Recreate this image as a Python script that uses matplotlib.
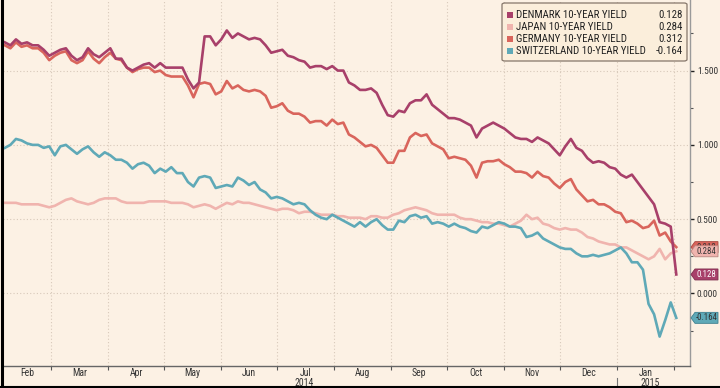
import matplotlib
matplotlib.use('Agg')
import matplotlib.pyplot as plt
import pandas as pd
from matplotlib.patches import Rectangle, FancyBboxPatch, Polygon
from matplotlib.lines import Line2D
import matplotlib.transforms as mtransforms
from matplotlib import font_manager

# ---------------- data ----------------
dates = pd.date_range('2014-02-04', '2015-02-02', freq='3D')

denmark = [1.69, 1.67, 1.71, 1.68, 1.69, 1.67, 1.67, 1.64, 1.60, 1.62,
           1.64, 1.65, 1.60, 1.57, 1.59, 1.65, 1.61, 1.59, 1.62, 1.65,
           1.58, 1.58, 1.52, 1.50, 1.52, 1.54, 1.55, 1.52, 1.55, 1.52,
           1.52, 1.52, 1.52, 1.44, 1.38, 1.42, 1.73, 1.73, 1.67, 1.71,
           1.77, 1.72, 1.75, 1.73, 1.71, 1.72, 1.71, 1.67, 1.62, 1.63,
           1.64, 1.60, 1.59, 1.57, 1.56, 1.52, 1.53, 1.53, 1.51, 1.53,
           1.50, 1.50, 1.42, 1.40, 1.37, 1.37, 1.38, 1.35, 1.27, 1.20,
           1.19, 1.23, 1.22, 1.28, 1.30, 1.30, 1.34, 1.27, 1.24, 1.21,
           1.18, 1.18, 1.17, 1.15, 1.13, 1.05, 1.11, 1.13, 1.15, 1.13,
           1.11, 1.08, 1.05, 1.04, 1.04, 1.02, 1.05, 1.03, 1.01, 0.97,
           0.93, 0.99, 1.04, 0.98, 0.96, 0.91, 0.88, 0.89, 0.88, 0.85,
           0.84, 0.80, 0.78, 0.80, 0.75, 0.70, 0.65, 0.60, 0.48, 0.47,
           0.45, 0.128]

japan = [0.61, 0.61, 0.61, 0.60, 0.60, 0.60, 0.60, 0.59, 0.58, 0.59,
         0.61, 0.63, 0.64, 0.62, 0.61, 0.60, 0.61, 0.63, 0.64, 0.64,
         0.64, 0.62, 0.61, 0.61, 0.61, 0.61, 0.62, 0.62, 0.62, 0.62,
         0.61, 0.61, 0.61, 0.60, 0.58, 0.59, 0.60, 0.59, 0.57, 0.59,
         0.61, 0.60, 0.62, 0.61, 0.61, 0.60, 0.59, 0.58, 0.57, 0.56,
         0.57, 0.57, 0.56, 0.54, 0.55, 0.55, 0.54, 0.53, 0.53, 0.53,
         0.52, 0.52, 0.51, 0.51, 0.51, 0.50, 0.52, 0.52, 0.51, 0.51,
         0.53, 0.54, 0.56, 0.57, 0.58, 0.57, 0.56, 0.54, 0.53, 0.53,
         0.53, 0.53, 0.51, 0.50, 0.50, 0.49, 0.48, 0.48, 0.47, 0.47,
         0.46, 0.45, 0.47, 0.49, 0.53, 0.50, 0.51, 0.47, 0.46, 0.44,
         0.43, 0.44, 0.43, 0.43, 0.41, 0.38, 0.37, 0.35, 0.34, 0.33,
         0.33, 0.31, 0.31, 0.29, 0.27, 0.25, 0.23, 0.25, 0.30, 0.23,
         0.27, 0.284]

germany = [1.67, 1.65, 1.69, 1.66, 1.67, 1.65, 1.65, 1.62, 1.57, 1.60,
           1.62, 1.63, 1.57, 1.55, 1.57, 1.63, 1.58, 1.55, 1.59, 1.62,
           1.58, 1.57, 1.52, 1.49, 1.51, 1.52, 1.52, 1.49, 1.50, 1.47,
           1.46, 1.46, 1.46, 1.40, 1.32, 1.41, 1.42, 1.41, 1.34, 1.36,
           1.43, 1.38, 1.40, 1.37, 1.36, 1.37, 1.36, 1.33, 1.25, 1.26,
           1.28, 1.23, 1.21, 1.21, 1.19, 1.15, 1.16, 1.16, 1.13, 1.17,
           1.14, 1.15, 1.07, 1.05, 1.02, 0.99, 1.00, 0.98, 0.93, 0.88,
           0.88, 0.96, 0.96, 1.05, 1.08, 1.06, 1.07, 1.01, 0.99, 0.97,
           0.91, 0.92, 0.91, 0.90, 0.86, 0.78, 0.88, 0.89, 0.89, 0.90,
           0.87, 0.85, 0.82, 0.82, 0.81, 0.78, 0.82, 0.79, 0.78, 0.74,
           0.71, 0.75, 0.77, 0.70, 0.66, 0.62, 0.63, 0.60, 0.60, 0.58,
           0.55, 0.54, 0.48, 0.49, 0.47, 0.44, 0.45, 0.49, 0.39, 0.41,
           0.35, 0.312]

switzerland = [0.98, 1.00, 1.04, 1.03, 1.01, 1.00, 1.00, 0.98, 0.99, 0.93,
               0.99, 1.00, 0.97, 0.94, 0.97, 0.99, 0.95, 0.92, 0.95, 0.93,
               0.90, 0.90, 0.88, 0.84, 0.87, 0.88, 0.86, 0.81, 0.84, 0.82,
               0.85, 0.81, 0.81, 0.75, 0.72, 0.78, 0.79, 0.78, 0.71, 0.72,
               0.73, 0.72, 0.78, 0.76, 0.73, 0.75, 0.70, 0.68, 0.64, 0.65,
               0.64, 0.62, 0.60, 0.61, 0.60, 0.56, 0.53, 0.51, 0.50, 0.53,
               0.51, 0.49, 0.47, 0.45, 0.48, 0.45, 0.48, 0.50, 0.46, 0.43,
               0.43, 0.49, 0.48, 0.52, 0.53, 0.51, 0.52, 0.47, 0.48, 0.47,
               0.45, 0.47, 0.45, 0.44, 0.42, 0.41, 0.45, 0.44, 0.46, 0.48,
               0.47, 0.45, 0.45, 0.44, 0.38, 0.39, 0.41, 0.37, 0.35, 0.33,
               0.31, 0.30, 0.30, 0.27, 0.25, 0.25, 0.26, 0.25, 0.26, 0.27,
               0.29, 0.31, 0.27, 0.21, 0.21, 0.16, -0.07, -0.14, -0.29, -0.18,
               -0.06, -0.164]

names = ['DENMARK 10-YEAR YIELD', 'JAPAN 10-YEAR YIELD',
         'GERMANY 10-YEAR YIELD', 'SWITZERLAND 10-YEAR YIELD']
months = ['Feb', 'Mar', 'Apr', 'May', 'Jun', 'Jul', 'Aug', 'Sep', 'Oct',
          'Nov', 'Dec', 'Jan']
years = ['2014', '2015']
yticks = [0.0, 0.5, 1.0, 1.5]

# ---------------- style ----------------
installed = {f.name for f in font_manager.fontManager.ttflist}
FONT = 'Roboto Condensed' if 'Roboto Condensed' in installed else (
    'Roboto' if 'Roboto' in installed else 'DejaVu Sans')
plt.rcParams['font.family'] = [FONT, 'DejaVu Sans']
BG = '#FCF1E4'
C_DK = '#A8406A'
C_JP = '#F0B4AE'
C_DE = '#D9655C'
C_CH = '#5FA9B7'
GRID = '#D8C9BA'
TXT = '#333333'
W, H = 720, 388

fig = plt.figure(figsize=(7.2, 3.88), dpi=100, facecolor=BG)
ax = fig.add_axes([3 / W, 22 / H, 687 / W, 366 / H])
ax.set_facecolor(BG)

series = [(japan, C_JP), (switzerland, C_CH), (germany, C_DE), (denmark, C_DK)]
for vals, col in series:
    ax.plot(dates, vals, color=col, lw=1.9, solid_joinstyle='round', zorder=3)

x0 = pd.Timestamp('2014-02-03')
x1 = pd.Timestamp('2015-02-09 10:00')
ax.set_xlim(x0, x1)
ax.set_ylim(-0.488, 1.975)

for s in ['top', 'left']:
    ax.spines[s].set_visible(False)
ax.spines['right'].set_color('#9a9a9a')
ax.spines['bottom'].set_color('#666666')
ax.spines['right'].set_linewidth(1.0)
ax.spines['bottom'].set_linewidth(1.0)

# x ticks at month starts
mstarts = pd.date_range('2014-03-01', '2015-02-01', freq='MS')
ax.set_xticks(mstarts)
ax.set_xticklabels([])
ax.tick_params(axis='x', which='major', length=3, width=0.8, color='#555555',
               direction='out')
bounds = [x0] + list(mstarts)
trans = mtransforms.blended_transform_factory(ax.transData, ax.transAxes)
for i, m in enumerate(months):
    a, b = bounds[i], bounds[i + 1]
    mid = a + (b - a) / 2
    ax.text(mid, -7.5 / 366, m, transform=trans, ha='center', va='center',
            fontsize=7, color=TXT, clip_on=False)
ax.text(pd.Timestamp('2014-07-16'), -17 / 366, years[0], transform=trans,
        ha='center', va='center', fontsize=7, color=TXT, clip_on=False)
ax.text(pd.Timestamp('2015-01-19'), -17 / 366, years[1], transform=trans,
        ha='center', va='center', fontsize=7, color=TXT, clip_on=False)
ax.add_line(Line2D([pd.Timestamp('2015-01-01')] * 2, [-12 / 366, -21 / 366],
                   transform=trans, color='#777777', lw=0.8, clip_on=False))

# y axis on right
ax.yaxis.tick_right()
ax.set_yticks(yticks)
ax.set_yticklabels(['{:.3f}'.format(v) for v in yticks])
ax.set_yticks([-0.25, 0.25, 0.75, 1.25, 1.75], minor=True)
ax.tick_params(axis='y', which='major', length=3, width=1.0, color='#222222',
               labelsize=6.8, labelcolor=TXT, pad=2)
ax.tick_params(axis='y', which='minor', length=2, width=0.8, color='#555555')

ax.grid(True, which='major', linestyle=(0, (1, 2)), color=GRID, lw=0.8, zorder=0)

# value tags on right (arrow-shaped boxes pointing at the axis)
ytrans = ax.get_yaxis_transform()
tags = [(germany, C_DE, '#A94840', TXT),
        (japan, C_JP, '#B98680', TXT),
        (denmark, C_DK, '#7E2D4D', 'white'),
        (switzerland, C_CH, '#3F8190', TXT)]
for k, (vals, fc, ec, tc) in enumerate(tags):
    v = vals[-1]
    ypix = ytrans.transform((1.0, v))[1]   # display px from bottom
    hh = 5.5
    pts = [(691, ypix), (695, ypix + hh), (718, ypix + hh),
           (718, ypix - hh), (695, ypix - hh)]
    pts = [(px / W, py / H) for px, py in pts]
    fig.patches.append(Polygon(pts, closed=True, transform=fig.transFigure,
                               fc=fc, ec=ec, lw=0.6, zorder=8 + 2 * k))
    fig.text(706.5 / W, ypix / H, '{:.3f}'.format(v), ha='center', va='center',
             fontsize=6.3, color=tc, zorder=9 + 2 * k)

# legend (manual)
def fx(px):
    return px / W

def fy(py):
    return 1 - py / H

box = FancyBboxPatch((fx(502), fy(61)), 185 / W, 58 / H,
                     boxstyle='round,pad=0,rounding_size=0.004',
                     transform=fig.transFigure, fc='#FBEEDB', ec='#85766A',
                     lw=0.9, zorder=30)
fig.patches.append(box)
rows = [15, 27, 39, 51]
cols = [C_DK, C_JP, C_DE, C_CH]
lvals = [denmark[-1], japan[-1], germany[-1], switzerland[-1]]
for r, name, col, v in zip(rows, names, cols, lvals):
    fig.patches.append(Rectangle((fx(507), fy(r + 3)), 6 / W, 6 / H,
                                 transform=fig.transFigure, fc=col, ec='none',
                                 zorder=31))
    fig.text(fx(516), fy(r), name, ha='left', va='center', fontsize=7.8,
             color='#222222', zorder=32)
    fig.text(fx(683), fy(r), '{:.3f}'.format(v), ha='right', va='center',
             fontsize=7.8, color='#222222', zorder=32)

# border of the picture
fig.add_artist(Line2D([1.5 / W, 1.5 / W], [0, 1], transform=fig.transFigure,
                      color='black', lw=2.2))
fig.add_artist(Line2D([0, 1], [0.8 / H, 0.8 / H], transform=fig.transFigure,
                      color='black', lw=1.5))

fig.savefig('out.png', dpi=100, facecolor=BG)
